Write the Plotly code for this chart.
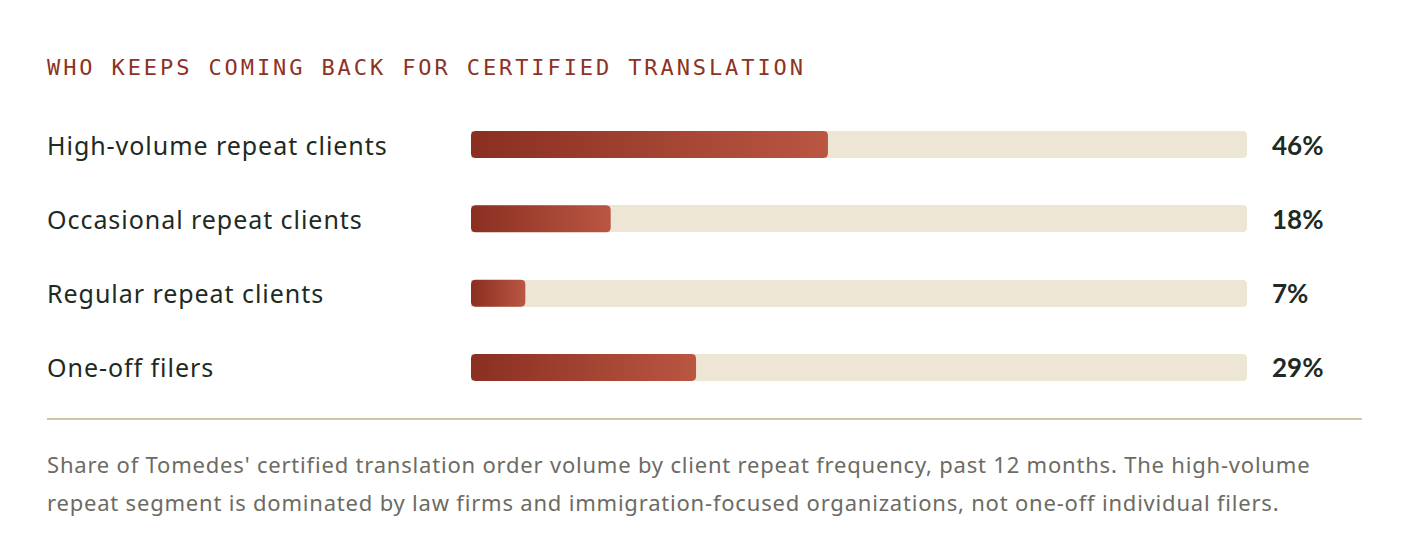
import numpy as np
import plotly.graph_objects as go

# data
categories = [
    "High-volume repeat clients",
    "Occasional repeat clients",
    "Regular repeat clients",
    "One-off filers",
]
shares = [46, 18, 7, 29]
value_labels = ["46%", "18%", "7%", "29%"]
title_text = "WHO KEEPS COMING BACK FOR CERTIFIED TRANSLATION"
caption_lines = [
    "Share of Tomedes' certified translation order volume by client repeat frequency, past 12 months. The high-volume",
    "repeat segment is dominated by law firms and immigration-focused organizations, not one-off individual filers.",
]

# layout in pixels (page body adds 8px margin, so shift everything back)
W, H = 1410, 556
OFF = 8
X0, X1 = 471 - OFF, 1247 - OFF          # track span
ROW0, ROW_STEP = 144.5 - OFF, 74.33
BAR_PX = 27
RADIUS_PX = 4
LEFT = 47 - OFF
TEXT_LEFT = LEFT - 2   # annotations add a little padding


def spaced(text, px):
    return f'<span style="letter-spacing:{px}px">{text}</span>'


x_per_px = 100 / (X1 - X0)
y_per_px = 1 / ROW_STEP
half_h = BAR_PX / 2 * y_per_px
y_top = -ROW0 / ROW_STEP
y_bot = (H - ROW0) / ROW_STEP


def rounded_rect(x0, x1, yc, hh, rx, ry, n=8):
    xs, ys = [], []
    corners = [
        (x1 - rx, yc - hh + ry, -np.pi / 2, 0),
        (x1 - rx, yc + hh - ry, 0, np.pi / 2),
        (x0 + rx, yc + hh - ry, np.pi / 2, np.pi),
        (x0 + rx, yc - hh + ry, np.pi, 1.5 * np.pi),
    ]
    for cx, cy, a0, a1 in corners:
        t = np.linspace(a0, a1, n)
        xs.extend(cx + rx * np.cos(t))
        ys.extend(cy + ry * np.sin(t))
    xs.append(xs[0])
    ys.append(ys[0])
    return xs, ys


fig = go.Figure()

# background tracks
fig.add_trace(go.Bar(
    x=[100] * len(categories), y=list(range(len(categories))), orientation="h",
    width=BAR_PX * y_per_px, marker=dict(color="#EDE6D5", cornerradius=RADIUS_PX, line=dict(width=0)),
    hoverinfo="skip", showlegend=False,
))

# gradient bars
for i, v in enumerate(shares):
    xs, ys = rounded_rect(0, v, i, half_h, RADIUS_PX * x_per_px, RADIUS_PX * y_per_px)
    fig.add_trace(go.Scatter(
        x=xs, y=ys, mode="lines", fill="toself", line=dict(width=0),
        fillgradient=dict(type="horizontal", colorscale=[[0, "#8A2F21"], [1, "#BA5642"]]),
        hoverinfo="skip", showlegend=False,
    ))

annotations = []
for i, (cat, lab) in enumerate(zip(categories, value_labels)):
    annotations.append(dict(
        x=TEXT_LEFT / W, xref="paper", y=i, yref="y", text=spaced(cat, 0.95), showarrow=False,
        xanchor="left", yanchor="middle",
        font=dict(family="Noto Sans", size=25, color="#1E2A24"),
    ))
    annotations.append(dict(
        x=(1271 - OFF - 1) / W, xref="paper", y=i, yref="y", text=lab, showarrow=False,
        xanchor="left", yanchor="middle",
        font=dict(family="Lato", size=26, color="#1E2A24", weight="bold"),
    ))

annotations.append(dict(
    x=TEXT_LEFT / W, xref="paper", y=1 - (67 - OFF) / H, yref="paper",
    text=spaced(title_text, 2.9),
    showarrow=False, xanchor="left", yanchor="middle",
    font=dict(family="DejaVu Sans Mono", size=22, color="#8E3224"),
))
for k, line in enumerate(caption_lines):
    annotations.append(dict(
        x=TEXT_LEFT / W, xref="paper", y=1 - (464 - OFF + 38 * k) / H, yref="paper",
        text=spaced(line, 0.8), showarrow=False, xanchor="left", yanchor="middle",
        font=dict(family="Noto Sans", size=22, color="#6C6B63"),
    ))

fig.update_layout(
    width=W, height=H, margin=dict(l=0, r=0, t=0, b=0),
    paper_bgcolor="white", plot_bgcolor="white",
    xaxis=dict(domain=[X0 / W, X1 / W], range=[0, 100], visible=False, fixedrange=True),
    yaxis=dict(domain=[0, 1], range=[y_bot, y_top], visible=False, fixedrange=True),
    annotations=annotations,
    shapes=[dict(
        type="line", xref="paper", yref="paper",
        x0=LEFT / W, x1=(1362 - OFF) / W, y0=1 - (419 - OFF) / H, y1=1 - (419 - OFF) / H,
        line=dict(color="#CFC5A8", width=2),
    )],
    bargap=0,
)

fig.write_html("out.html")
